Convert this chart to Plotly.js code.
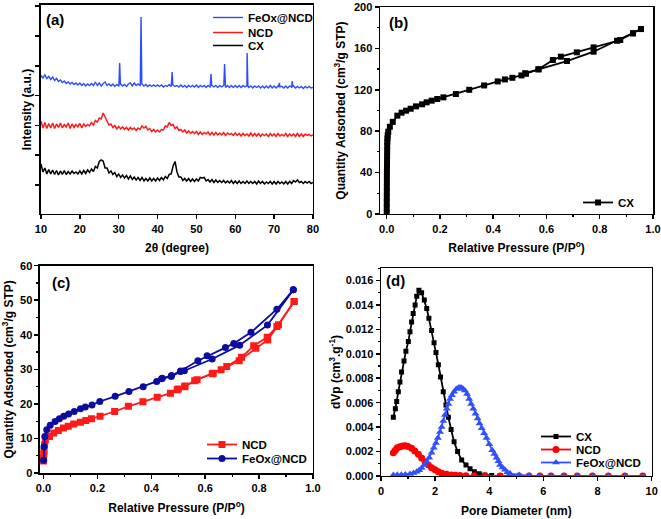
<!DOCTYPE html>
<html><head><meta charset="utf-8">
<script src="https://cdn.plot.ly/plotly-3.0.1.min.js"></script>
<style>html,body{margin:0;padding:0;background:#fff}#chart{width:661px;height:519px}</style>
</head><body><div id="chart"></div>
<script>
// ---------- (a) XRD ----------
const twoTheta = [
10,10.5,11,11.5,12,12.5,13,13.5,14,14.5,
15,15.5,16,16.5,17,17.5,18,18.5,19,19.5,
20,20.5,21,21.5,22,22.5,23,23.5,24,24.5,
25,25.5,26,26.5,27,27.5,28,28.5,29,29.5,
30,30.5,31,31.5,32,32.5,33,33.5,34,34.5,
35,35.5,36,36.5,37,37.5,38,38.5,39,39.5,
40,40.5,41,41.5,42,42.5,43,43.5,44,44.5,
45,45.5,46,46.5,47,47.5,48,48.5,49,49.5,
50,50.5,51,51.5,52,52.5,53,53.5,54,54.5,
55,55.5,56,56.5,57,57.5,58,58.5,59,59.5,
60,60.5,61,61.5,62,62.5,63,63.5,64,64.5,
65,65.5,66,66.5,67,67.5,68,68.5,69,69.5,
70,70.5,71,71.5,72,72.5,73,73.5,74,74.5,
75,75.5,76,76.5,77,77.5,78,78.5,79,79.5,
80];
const feoxXrdBase = [
138.5,136,139,135.5,137.5,134.5,137,133.5,135.5,132.5,
134,131.5,133,130.5,132,130,131.5,129.5,131,129,
131,128.5,130.5,128,130,128.5,130.5,128.5,132,128.5,
131,128,130.5,132,128.5,130,128,130,127.5,129.5,
128,130,128,129.5,127.5,130,131,128,131,128.5,
130,128.5,130,128,129.5,127.5,129,127.5,129,127.5,
129,127.5,129,127,128.5,127.5,129.5,127.5,129,127.5,
128.5,127,129,127,128.5,126.5,128.5,127,128.5,127,
129,126.5,128.5,127,128.5,126.5,128.5,127,128.5,127,
128.5,126.5,128.5,127,128.5,126.5,128.5,126.5,128.5,126.5,
128.5,126.5,128.5,126.5,128.5,127,128,126.5,128,126,
128,126.5,128,126,128,126,128,126,128.5,126,
128,126,128,126.5,127.5,126,128,126,128,126,
128,126,127.5,126,127.5,125.5,127.5,126,127.5,126,
126.5];
const feoxSpikeX = [30.05,30.25,30.45, 35.55,35.75,35.95, 43.55,43.75,43.95, 53.55,53.75,53.95, 57.05,57.25,57.45, 62.85,63.05,63.25, 71.15,71.35,71.55, 74.45,74.65,74.85];
const feoxSpikeY = [129,151,129, 129.5,197,129.5, 128.5,142,128.5, 128,140,128, 128,150,128, 128,161,128, 127.5,131,127.5, 127.5,133,127.5];
const ncdXrd = [
93,86,91.5,85.5,90.5,86,91,85.5,90,86.5,
91,86,89.5,87,91,85.5,90,86.5,89.5,87,
90.5,86,90,87.5,89.5,88,91.5,89,93.5,92,
96,95,101,97,94.5,89,90,86.5,88.5,85,
87.5,85,87,84.5,86.5,84,86.5,84.5,86,83.5,
86,84.5,88,86,87.5,84,85.5,82.5,84.5,82,
84,82,84.5,84,88,87,91.5,88.5,89.5,85.5,
87,83.5,84.5,82,84,81,83,80.5,82.5,80.5,
82.5,79.5,82,79.5,81.5,80,82,79,81.5,79,
81.5,79,81,79,81.5,78.5,81,79.5,80.5,78.5,
81,78.5,80.5,78,80.5,78.5,80,78,81,78,
80.5,78,80.5,77.5,80,78.5,80,77.5,80.5,78,
80,77.5,80.5,78,79.5,78,80.5,77.5,80,78,
80,77.5,80.5,77.5,80,77.5,80,78.5,79.5,78,
79];
const cxXrd = [
50,42,46,40,44.5,40,44,39.5,43.5,39,
43,39.5,43.5,39.5,42.5,40,43,40.5,42,40,
43,40,43.5,40.5,44,41.5,45,42.5,47.5,46,
52.5,54,53,46,46,41,43,39.5,41.5,37.5,
40,36.5,39,36,38.5,35,38,34.5,37,34,
36.5,33.5,36.5,33,35.5,33,36,33,35.5,33,
36,33.5,36.5,34,37.5,35.5,39.5,40,48,52.5,
42,37,37,33.5,35.5,33,35.5,32.5,35,32.5,
35,33,36.5,36,36.5,33,34.5,32,34.5,31.5,
34,31.5,33.5,31.5,33.5,31,33,31,33.5,30.5,
33,30.5,33,30.5,32.5,30.5,33,30.5,32.5,30.5,
32.5,30,33,30.5,32.5,30,32,30.5,32.5,30,
32.5,30,32.5,30.5,32,30,32.5,30,32.5,30.5,
33.5,32,34,31.5,32.5,30.5,32.5,31,32.5,30.5,
31.5];

// ---------- (b) CX N2 isotherm ----------
const cxAdsP = [0.0002,0.0003,0.0004,0.0005,0.0006,0.0007,0.0008,0.0009,0.001,0.0012,0.0014,0.0016,0.0018,0.002,0.0025,0.003,0.004,0.006,0.012,0.023,0.04,0.056,0.073,0.09,0.11,0.133,0.15,0.169,0.19,0.213,0.26,0.31,0.366,0.417,0.444,0.472,0.506,0.523,0.57,0.677,0.777,0.865,0.925,0.955];
const cxAdsQ = [1,6,11,16,21,26,31,36,41,46,51,56,61,66,70,73,76,79.5,84.3,89,95,97.9,99.8,101.7,104,106,107.9,109.5,111.1,112.7,115.9,120,124.2,128.1,130,131.6,133.9,135.5,139.8,147.8,156.8,167.4,174.6,178.7];
const cxDesP = [0.955,0.925,0.877,0.777,0.714,0.654,0.624,0.57,0.52];
const cxDesQ = [178.7,174.6,168.1,161,156.2,152,148.8,139.8,136];

// ---------- (c) NCD / FeOx@NCD isotherms ----------
const ncdAdsP = [0.0002,0.0005,0.001,0.002,0.004,0.007,0.022,0.038,0.055,0.074,0.092,0.112,0.137,0.157,0.178,0.21,0.264,0.315,0.369,0.422,0.471,0.496,0.524,0.561,0.626,0.659,0.726,0.788,0.832,0.872,0.93];
const ncdAdsQ = [3.5,4.3,5.5,6.3,8.2,9.6,10.6,11.6,12.3,13,13.5,14.2,14.7,15.2,15.7,16.4,17.8,19.3,20.6,21.9,23.1,24.1,25,26.7,28.7,29.9,32.5,36.1,38.5,42.9,49.6];
const ncdDesP = [0.93,0.866,0.83,0.78,0.735,0.68,0.63,0.57,0.525,0.5];
const ncdDesQ = [49.6,42.4,39.3,36.8,33.5,30.8,28.9,27,25.2,24.3];
const feoxAdsP = [0.0005,0.002,0.005,0.012,0.025,0.043,0.059,0.075,0.093,0.114,0.137,0.155,0.18,0.209,0.266,0.317,0.37,0.42,0.438,0.474,0.508,0.523,0.626,0.728,0.831,0.927];
const feoxAdsQ = [3.7,7.6,10.6,12.5,13.8,14.9,15.7,16.4,17.1,17.8,18.6,19.1,19.7,20.7,22.2,23.6,25,26.5,27.3,27.9,29.4,29.6,33.0,37.0,42.8,53.0];
const feoxDesP = [0.927,0.866,0.77,0.706,0.675,0.607,0.573,0.509,0.475,0.441];
const feoxDesQ = [53.0,47.4,40.7,37.5,36.3,33.9,32.5,29.5,28.2,27.4];

// ---------- (d) pore size distribution ----------
const cxPoreD = [0.456,0.53,0.58,0.64,0.70,0.76,0.85,0.92,1.01,1.07,1.13,1.19,1.26,1.32,1.40,1.50,1.60,1.69,1.77,1.87,1.96,2.03,2.12,2.20,2.30,2.40,2.49,2.59,2.70,2.83,2.98,3.14,3.29,3.45,3.63,3.84,4.09,4.4];
const cxDvp = [0.0048,0.0055,0.0061,0.0069,0.0077,0.0085,0.0094,0.0102,0.0110,0.0118,0.0126,0.0133,0.0140,0.0147,0.0152,0.0150,0.0144,0.0137,0.0129,0.0119,0.0109,0.0101,0.0091,0.0081,0.0069,0.0058,0.0048,0.0038,0.0028,0.0020,0.0013,0.00090,0.00060,0.00035,0.00019,0.00008,0.00003,0.00001];
const ncdPoreD = [0.456,0.53,0.6,0.7,0.8,0.89,1.0,1.13,1.25,1.38,1.5,1.63,1.75,1.87,2.0,2.12,2.25,2.43,2.6,2.75,2.92,3.14,3.45,3.84,4.4,4.77,5.10,5.47,5.87,6.28,6.76,7.25,7.81,8.40,9.01,9.67];
const ncdDvp = [0.0019,0.0021,0.0023,0.0024,0.00246,0.00248,0.00242,0.00227,0.00205,0.00178,0.00148,0.00117,0.0009,0.00068,0.0005,0.00035,0.00022,0.00014,0.00008,0.00005,0.00003,0.00002,0.00001,0,0,0,0,0,0,0,0,0,0,0,0,0];
const feoxPoreD = [0.456,0.6,0.75,0.9,1.07,1.2,1.32,1.41,1.5,1.6,1.69,1.78,1.87,1.95,2.03,2.1,2.18,2.24,2.30,2.36,2.43,2.49,2.55,2.62,2.70,2.78,2.86,2.92,2.98,3.04,3.10,3.18,3.26,3.33,3.41,3.49,3.57,3.64,3.72,3.81,3.90,4.0,4.11,4.19,4.27,4.34,4.40,4.49,4.58,4.67,4.77,5.10,5.47,5.87,6.28,6.76,7.25,7.81,8.40,9.01,9.67];
const feoxDvp = [0.00008,0.00009,0.0001,0.00012,0.00016,0.00024,0.00035,0.00047,0.00065,0.0009,0.00117,0.0015,0.0019,0.0023,0.0027,0.0031,0.0036,0.0040,0.0045,0.0050,0.0055,0.0059,0.0063,0.0066,0.0069,0.00712,0.00722,0.00725,0.00722,0.00712,0.0070,0.0067,0.0063,0.0059,0.0055,0.0051,0.0047,0.0043,0.0039,0.0035,0.0031,0.0026,0.0021,0.0018,0.0015,0.0012,0.0009,0.0007,0.0005,0.0003,0.0002,0.00008,0.00003,0.00001,0,0,0,0,0,0,0];

// merge FeOx XRD baseline with its sharp reflections
const feoxPts = twoTheta.map((x,i)=>[x,feoxXrdBase[i]]).concat(feoxSpikeX.map((x,i)=>[x,feoxSpikeY[i]])).sort((a,b)=>a[0]-b[0]);

const FONT = 'Liberation Sans, Arial, Helvetica, sans-serif';
const BLK = '#000';
function ax(extra){
  return Object.assign({
    showline:true, linecolor:BLK, linewidth:1.5, mirror:true,
    ticks:'outside', ticklen:4, tickwidth:1.5, tickcolor:BLK,
    showgrid:false, zeroline:false,
    tickfont:{family:FONT,size:11,color:BLK,weight:'bold'}
  }, extra);
}
function ttl(text, standoff){ return {text:text, standoff:standoff, font:{family:FONT,size:12,color:BLK,weight:'bold'}}; }

const traces = [
  {x:feoxPts.map(p=>p[0]), y:feoxPts.map(p=>p[1]), mode:'lines', name:'FeOx@NCD', line:{color:'#2d4bff',width:1.4}, xaxis:'x', yaxis:'y', legend:'legend10'},
  {x:twoTheta, y:ncdXrd, mode:'lines', name:'NCD', line:{color:'#ff1a1a',width:1.5}, xaxis:'x', yaxis:'y', legend:'legend5'},
  {x:twoTheta, y:cxXrd, mode:'lines', name:'CX', line:{color:BLK,width:1.5}, xaxis:'x', yaxis:'y', legend:'legend6'},

  {x:cxAdsP, y:cxAdsQ, mode:'lines+markers', name:'CX', line:{color:BLK,width:1.8}, marker:{symbol:'square',size:6,color:BLK}, xaxis:'x2', yaxis:'y2', legend:'legend2'},
  {x:cxDesP, y:cxDesQ, mode:'lines+markers', name:'CX des', showlegend:false, line:{color:BLK,width:1.8}, marker:{symbol:'square',size:6,color:BLK}, xaxis:'x2', yaxis:'y2', legend:'legend2'},

  {x:ncdAdsP, y:ncdAdsQ, mode:'lines+markers', name:'NCD', line:{color:'#ff1a1a',width:1.8}, marker:{symbol:'square',size:7,color:'#ff1a1a'}, xaxis:'x3', yaxis:'y3', legend:'legend3'},
  {x:ncdDesP, y:ncdDesQ, mode:'lines+markers', name:'NCD des', showlegend:false, line:{color:'#ff1a1a',width:1.8}, marker:{symbol:'square',size:7,color:'#ff1a1a'}, xaxis:'x3', yaxis:'y3', legend:'legend3'},
  {x:feoxAdsP, y:feoxAdsQ, mode:'lines+markers', name:'FeOx@NCD', line:{color:'#0c0ca0',width:1.8}, marker:{symbol:'circle',size:7,color:'#0c0ca0'}, xaxis:'x3', yaxis:'y3', legend:'legend7'},
  {x:feoxDesP, y:feoxDesQ, mode:'lines+markers', name:'FeOx des', showlegend:false, line:{color:'#0c0ca0',width:1.8}, marker:{symbol:'circle',size:7,color:'#0c0ca0'}, xaxis:'x3', yaxis:'y3', legend:'legend7'},

  {x:cxPoreD, y:cxDvp, mode:'lines+markers', name:'CX', line:{color:BLK,width:1.8}, marker:{symbol:'square',size:5,color:BLK}, xaxis:'x4', yaxis:'y4', legend:'legend4'},
  {x:ncdPoreD, y:ncdDvp, mode:'lines+markers', name:'NCD', line:{color:'#ff0000',width:1.8}, marker:{symbol:'circle',size:7,color:'#ff0000'}, xaxis:'x4', yaxis:'y4', legend:'legend8'},
  {x:feoxPoreD, y:feoxDvp, mode:'lines+markers', name:'FeOx@NCD', line:{color:'#3050ff',width:1.8}, marker:{symbol:'triangle-up',size:7,color:'#3050ff'}, xaxis:'x4', yaxis:'y4', legend:'legend9'}
];

function leg(x,y){ return {x:x, y:y, xanchor:'left', yanchor:'top', bgcolor:'rgba(0,0,0,0)', borderwidth:0, itemwidth:30, tracegroupgap:0, font:{family:FONT,size:11.5,color:BLK,weight:'bold'}}; }
function lbl(t,x,y){ return {text:t, xref:'paper', yref:'paper', x:x, y:y, showarrow:false, xanchor:'center', yanchor:'middle', font:{family:FONT,size:15,color:BLK,weight:'bold'}}; }

const layout = {
  width:661, height:519, margin:{l:0,r:0,t:0,b:0}, paper_bgcolor:'#fff', plot_bgcolor:'#fff',
  font:{family:FONT,size:11,color:BLK,weight:'bold'},
  xaxis: ax({domain:[0.0620,0.4735], range:[10,80], dtick:10, anchor:'y', title:ttl('2θ (degree)',10)}),
  yaxis: ax({domain:[0.5877,0.9904], range:[0,209], tick0:29, dtick:29.8, showticklabels:false, anchor:'x', title:ttl('Intensity (a.u.)',1)}),
  xaxis2: ax({domain:[0.5749,0.9879], range:[-0.025,1.0], dtick:0.2, tickformat:'.1f', minor:{dtick:0.1,ticks:'outside',ticklen:2,tickwidth:1.2}, anchor:'y2', title:ttl('Relative Pressure (P/P<sup>o</sup>)',10)}),
  yaxis2: ax({domain:[0.5877,0.9865], range:[0,200], dtick:40, minor:{dtick:20,ticks:'outside',ticklen:2,tickwidth:1.2}, anchor:'x2', title:ttl('Quantity Adsorbed (cm<sup>3</sup>/g STP)',5)}),
  xaxis3: ax({domain:[0.0605,0.4735], range:[-0.013,1.0], dtick:0.2, tickformat:'.1f', minor:{dtick:0.1,ticks:'outside',ticklen:2,tickwidth:1.2}, anchor:'y3', title:ttl('Relative Pressure (P/P<sup>o</sup>)',11)}),
  yaxis3: ax({domain:[0.0886,0.4881], range:[0,60], dtick:10, minor:{dtick:5,ticks:'outside',ticklen:2,tickwidth:1.2}, anchor:'x3', title:ttl('Quantity Adsorbed (cm<sup>3</sup>/g STP)',6)}),
  xaxis4: ax({domain:[0.5764,0.9859], range:[0,10], dtick:2, minor:{dtick:1,ticks:'outside',ticklen:2,tickwidth:1.2}, anchor:'y4', title:ttl('Pore Diameter (nm)',11)}),
  yaxis4: ax({domain:[0.0829,0.4836], range:[0,0.01702], dtick:0.002, tickformat:'.3f', minor:{dtick:0.001,ticks:'outside',ticklen:2,tickwidth:1.2}, anchor:'x4', title:ttl('dVp (cm<sup>3</sup>.g<sup>-1</sup>)',2)}),
  legend10: leg(0.3147,0.9942),
  legend5: leg(0.3147,0.9653),
  legend6: leg(0.3147,0.9403),
  legend2: leg(0.8745,0.6378),
  legend3: leg(0.3056,0.1715),
  legend7: leg(0.3056,0.1445),
  legend4: leg(0.8109,0.1869),
  legend8: leg(0.8109,0.1618),
  legend9: leg(0.8109,0.1368),
  annotations:[lbl('(a)',0.0832,0.9615), lbl('(b)',0.6036,0.9557), lbl('(c)',0.0923,0.4566), lbl('(d)',0.599,0.4605)]
};
Plotly.newPlot('chart', traces, layout, {displayModeBar:false, staticPlot:true});
</script></body></html>
